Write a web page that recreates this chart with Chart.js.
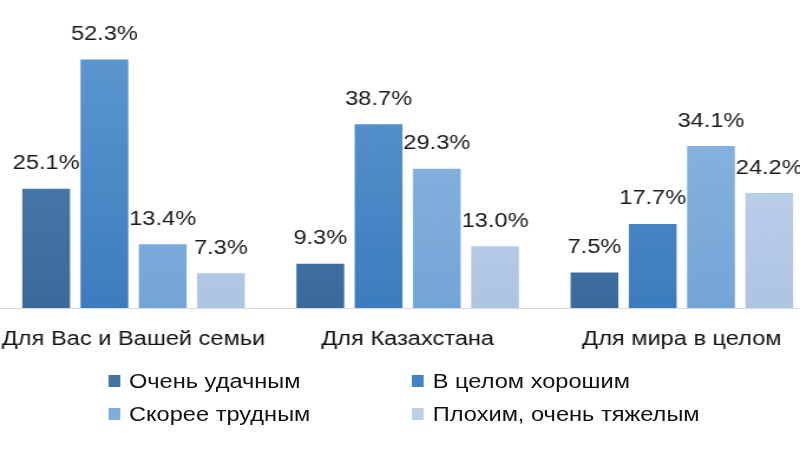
<!DOCTYPE html>
<html>
<head>
<meta charset="utf-8">
<script src="https://cdn.jsdelivr.net/npm/chart.js@4"></script>
<style>
  html, body { margin: 0; padding: 0; background: #fff; overflow: hidden; }
  body { width: 800px; height: 450px; position: relative; font-family: "Liberation Sans", Arial, sans-serif; }
  /* the reference text looks stretched sideways, so the whole page is drawn narrow and widened */
  #page { position: absolute; left: 0; top: 0; width: 678px; height: 450px; transform: scaleX(1.18); transform-origin: 0 0; }
  #wrap { position: absolute; left: -3px; top: 0; width: 697px; height: 370px; }
  #legend { position: absolute; left: 91.5px; top: 370px; width: 540px; display: grid; grid-template-columns: 257.5px 270px; row-gap: 11px; }
  .item { display: flex; align-items: center; font-size: 20px; color: #111; height: 22px; }
  .sw { width: 10.2px; height: 12px; margin-right: 7.6px; }
</style>
</head>
<body>
<div id="page">
<div id="wrap"><canvas id="myChart"></canvas></div>
<div id="legend"></div>
</div>
<script>
// survey results, values in percent
var categories = ["Для Вас и Вашей семьи", "Для Казахстана", "Для мира в целом"];
var seriesNames = ["Очень удачным", "В целом хорошим", "Скорее трудным", "Плохим, очень тяжелым"];
var veryGood = [25.1, 9.3, 7.5];
var good = [52.3, 38.7, 17.7];
var hard = [13.4, 29.3, 34.1];
var bad = [7.3, 13.0, 24.2];

// top / bottom colour of each bar gradient
var topColors = ["#5482b4", "#5a95cf", "#8db7e1", "#c6d8ef"];
var bottomColors = ["#3a699b", "#3c7cbe", "#74a5d7", "#adc4e3"];
var swatches = ["#44729f", "#4382c3", "#80aedb", "#bccfe8"];

function grad(i) {
  return function (ctx) {
    var chart = ctx.chart;
    var area = chart.chartArea;
    if (!area) return bottomColors[i];
    var g = chart.ctx.createLinearGradient(0, area.bottom, 0, area.top + 40);
    g.addColorStop(0, bottomColors[i]);
    g.addColorStop(1, topColors[i]);
    return g;
  };
}

var allData = [veryGood, good, hard, bad];
var datasets = allData.map(function (d, i) {
  return {
    label: seriesNames[i],
    data: d,
    backgroundColor: grad(i),
    barPercentage: 0.82,
    categoryPercentage: 0.85
  };
});

var valueLabels = {
  id: "valueLabels",
  afterDatasetsDraw: function (chart) {
    var c = chart.ctx;
    c.save();
    c.font = "20px 'Liberation Sans', Arial, sans-serif";
    c.fillStyle = "#1a1a1a";
    c.textAlign = "center";
    c.textBaseline = "bottom";
    chart.data.datasets.forEach(function (ds, i) {
      chart.getDatasetMeta(i).data.forEach(function (bar, j) {
        c.fillText(ds.data[j].toFixed(1) + "%", bar.x, bar.y - 15);
      });
    });
    c.restore();
  }
};

new Chart("myChart", {
  type: "bar",
  data: { labels: categories, datasets: datasets },
  options: {
    responsive: true,
    maintainAspectRatio: false,
    animation: false,
    layout: { padding: { top: 23, left: 0, right: 0, bottom: 0 } },
    plugins: { legend: { display: false }, tooltip: { enabled: false } },
    scales: {
      x: {
        grid: { display: false, drawTicks: false },
        border: { color: "#d9d9d9" },
        ticks: { color: "#111", font: { size: 20, family: "'Liberation Sans', Arial, sans-serif" }, padding: 19 },
        // let the long first label run off the edge, as in the picture
        afterFit: function (scale) { scale.paddingLeft = 0; scale.paddingRight = 0; }
      },
      y: { display: false, min: 0, max: 60 }
    }
  },
  plugins: [valueLabels]
});

var lg = document.getElementById("legend");
seriesNames.forEach(function (n, i) {
  var it = document.createElement("div");
  it.className = "item";
  it.innerHTML = '<span class="sw" style="background:' + swatches[i] + '"></span>' + n;
  lg.appendChild(it);
});
</script>
</body>
</html>
